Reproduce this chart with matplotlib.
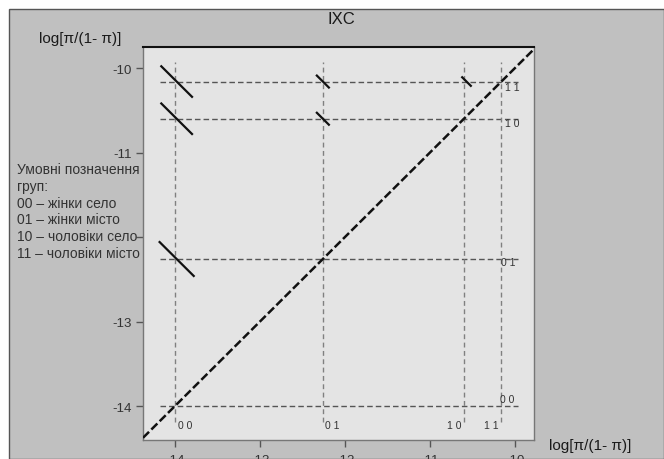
import matplotlib
matplotlib.use("Agg")
import matplotlib.pyplot as plt
from matplotlib.patches import Rectangle

plt.rcParams['font.family'] = ['Liberation Sans', 'DejaVu Sans']

# Groups: first digit - sex (0 women, 1 men), second - settlement (0 village, 1 town)
groups = ["0 0", "0 1", "1 0", "1 1"]
logit = [-14.0, -12.26, -10.6, -10.16]   # log[pi/(1-pi)] for each group

# short solid marks: (column group, row group, half width)
mark_col = [0, 0, 0, 1, 1, 2]
mark_row = [3, 2, 1, 3, 2, 3]
mark_half = [0.19, 0.19, 0.21, 0.08, 0.08, 0.06]
mark_shift = [0.02, 0.02, 0.02, 0.0, 0.0, 0.03]

yticks = [-14, -13, -12, -11, -10]
ytick_labels = ["-14", "-13", "", "-11", "-10"]
xticks = [-14, -13, -12, -11, -10]
xtick_labels = ["-14", "-13", "-12", "-11", "-10"]

title = "IXC"
axis_label = "log[π/(1- π)]"
legend_lines = ["Умовні позначення", "груп:", "00 – жінки село", "01 – жінки місто",
                "10 – чоловіки село", "11 – чоловіки місто"]

W, H = 664, 460
fig = plt.figure(figsize=(W / 100, H / 100), dpi=100, facecolor="white")

# grey panel behind everything
fig.patches.append(Rectangle((9 / W, 0), 1 - 9 / W, 1 - 10 / H, transform=fig.transFigure,
                             facecolor="#c0c0c0", edgecolor="#555555", lw=1, zorder=-5))

ax = fig.add_axes([143 / W, 1 - 441 / H, 391 / W, 393 / H])
ax.set_facecolor("#e4e4e4")
ax.set_xlim(-14.376, -9.776)
ax.set_ylim(-14.402, -9.751)

for side in ["left", "right", "bottom"]:
    ax.spines[side].set_color("#777777")
    ax.spines[side].set_linewidth(1)
ax.spines["top"].set_color("#111111")
ax.spines["top"].set_linewidth(1.5)

# reference lines for each group
for v in logit:
    ax.plot([-14.18, -9.96], [v, v], color="#555555", lw=1.0, dashes=(4, 2.2), zorder=2)
    ax.plot([v, v], [-14.19, -9.93], color="#808080", lw=1.0, dashes=(3.5, 2.5), zorder=2)

# diagonal y = x
ax.plot([-14.376, -9.776], [-14.376, -9.776], color="#111111", lw=1.8,
        dashes=(3.4, 1.3), zorder=3)

for c, r, h, s in zip(mark_col, mark_row, mark_half, mark_shift):
    cx = logit[c] + s
    cy = logit[r]
    ax.plot([cx - h, cx + h], [cy + h, cy - h], color="#111111", lw=1.6,
            solid_capstyle="butt", zorder=4)

# group labels along the bottom and the right side
lab_kw = dict(fontsize=7.5, color="#333333", zorder=5)
ax.text(logit[0] + 0.03, -14.22, groups[0], ha="left", va="center", **lab_kw)
ax.text(logit[1] + 0.03, -14.22, groups[1], ha="left", va="center", **lab_kw)
ax.text(logit[2] - 0.03, -14.22, groups[2], ha="right", va="center", **lab_kw)
ax.text(logit[3] - 0.03, -14.22, groups[3], ha="right", va="center", **lab_kw)
ax.text(-10.12, logit[3] - 0.07, groups[3], ha="left", va="center", **lab_kw)
ax.text(-10.12, logit[2] - 0.05, groups[2], ha="left", va="center", **lab_kw)
ax.text(-10.17, logit[1] - 0.04, groups[1], ha="left", va="center", **lab_kw)
ax.text(-10.18, logit[0] + 0.08, groups[0], ha="left", va="center", **lab_kw)

ax.set_xticks(xticks)
ax.set_xticklabels(xtick_labels)
ax.set_yticks(yticks)
ax.set_yticklabels(ytick_labels)
ax.tick_params(direction="out", length=5, width=1, color="#555555",
               labelcolor="#333333", labelsize=9.5, pad=3)
ax.tick_params(axis="x", pad=5)

fig.text(341 / W, 1 - 20 / H, title, ha="center", va="center", fontsize=12, color="#1a1a1a")
fig.text(80 / W, 1 - 39 / H, axis_label, ha="center", va="center", fontsize=11, color="#1a1a1a")
fig.text(590 / W, 1 - 446 / H, axis_label, ha="center", va="center", fontsize=11, color="#1a1a1a")

for i, line in enumerate(legend_lines):
    fig.text(17 / W, 1 - (170 + 16.8 * i) / H, line, ha="left", va="center",
             fontsize=10, color="#333333")

fig.savefig("out.png", dpi=100, facecolor=fig.get_facecolor())
